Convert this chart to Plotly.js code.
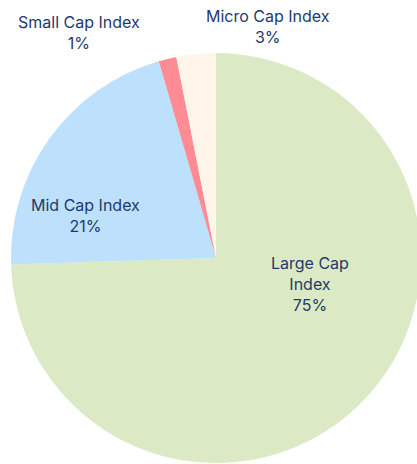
<!DOCTYPE html>
<html><head><meta charset="utf-8">
<script src="https://cdn.plot.ly/plotly-3.0.1.min.js"></script>
<style>html,body{margin:0;padding:0;overflow:hidden;background:#fff;width:417px;height:464px}</style>
</head><body><div id="chart"></div>
<script>
const categories = ["Large Cap Index", "Mid Cap Index", "Small Cap Index", "Micro Cap Index"];
const labelLines = ["Large Cap<br>Index", "Mid Cap Index", "Small Cap Index", "Micro Cap Index"];
const values = [74.5, 21.0, 1.4, 3.1];
const colors = ["#dbeac4", "#bde0fd", "#ff8c94", "#fff5e8"];
// label anchor positions in pixels (layout only)
const labelPx = [[310, 284], [85, 215], [79, 33], [268, 27]];

const W = 432, H = 464, mt = 53, mb = 1;
const plotH = H - mt - mb;
const total = values.reduce((a, b) => a + b, 0);
const annotations = categories.map((c, i) => ({
  xref: "paper", yref: "paper",
  x: labelPx[i][0] / W, y: (H - mb - labelPx[i][1]) / plotH,
  xanchor: "center", yanchor: "middle",
  text: labelLines[i] + "<br>" + Math.round(values[i] / total * 100) + "%",
  showarrow: false, align: "center",
  font: {family: "Inter, 'Noto Sans', sans-serif", size: 16, color: "#1d3a6e"}
}));

Plotly.newPlot("chart", [{
  type: "pie", labels: categories, values: values, sort: false,
  direction: "clockwise", rotation: 0, textinfo: "none", hoverinfo: "none",
  marker: {colors: colors, line: {width: 0}}, showlegend: false,
  domain: {x: [0, 1], y: [0, 1]}
}], {
  width: W, height: H, margin: {l: 0, r: 0, t: mt, b: mb},
  paper_bgcolor: "#fff", plot_bgcolor: "#fff", showlegend: false,
  annotations: annotations
}, {staticPlot: true, displayModeBar: false});
</script></body></html>
